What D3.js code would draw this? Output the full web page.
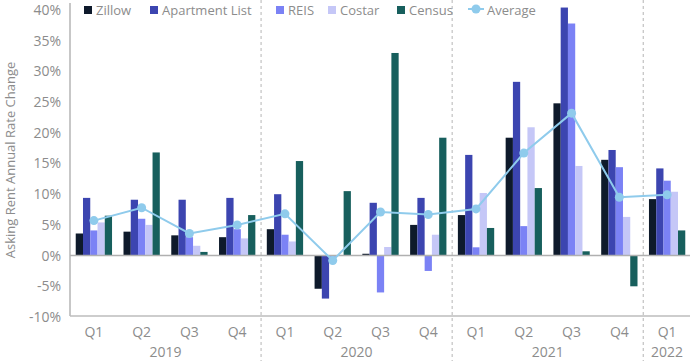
<!DOCTYPE html>
<html>
<head>
<meta charset="utf-8">
<script src="https://cdn.jsdelivr.net/npm/d3@7"></script>
<style>
  body { margin: 0; background: #fff; }
  svg { display: block; font-family: 'Open Sans', sans-serif; }
</style>
</head>
<body>
<svg id="chart" width="690" height="361"></svg>
<script>
// quarter / year labels
const quarters = ['Q1', 'Q2', 'Q3', 'Q4', 'Q1', 'Q2', 'Q3', 'Q4', 'Q1', 'Q2', 'Q3', 'Q4', 'Q1'];
const years = ['2019', '2020', '2021', '2022'];
const quartersPerYear = [4, 4, 4, 1];

// series values (% annual change)
const zillow = [3.6, 3.9, 3.3, 3.0, 4.3, -5.4, 0.3, 5.0, 6.6, 19.2, 24.8, 15.6, 9.2];
const apartmentList = [9.4, 9.1, 9.1, 9.4, 10.0, -7.0, 8.6, 9.4, 16.4, 28.3, 40.4, 17.2, 14.2];
const reis = [4.1, 6.0, 3.0, 4.3, 3.4, -0.2, -6.0, -2.5, 1.35, 4.8, 37.8, 14.4, 12.2];
const costar = [5.4, 5.0, 1.6, 2.8, 2.3, 0.1, 1.4, 3.4, 10.2, 20.9, 14.6, 6.3, 10.4];
const census = [6.5, 16.8, 0.6, 6.6, 15.4, 10.5, 33.0, 19.2, 4.5, 11.0, 0.7, -5.0, 4.1];
const average = [5.7, 7.8, 3.6, 5.0, 6.8, -0.8, 7.1, 6.7, 7.6, 16.7, 23.2, 9.5, 9.9];

const seriesNames = ['Zillow', 'Apartment List', 'REIS', 'Costar', 'Census'];
const seriesValues = [zillow, apartmentList, reis, costar, census];
const seriesColors = ['#0e1a2b', '#3c45b0', '#7b82f5', '#c5c7f7', '#175f5d'];
const avgColor = '#8fcbec';
const yTicks = [-10, -5, 0, 5, 10, 15, 20, 25, 30, 35, 40];

const textColor = '#8c8c8c';
const svg = d3.select('#chart');

const plotLeft = 70, plotRight = 691, plotTop = 10, plotBottom = 317;

const x0 = d3.scaleBand()
  .domain(d3.range(quarters.length))
  .range([plotLeft, plotRight])
  .paddingInner(0.24)
  .paddingOuter(0.12);

const x1 = d3.scaleBand()
  .domain(seriesNames)
  .range([0, x0.bandwidth()]);

const y = d3.scaleLinear()
  .domain([-10, 40])
  .range([plotBottom, plotTop]);

// year dividers (dashed)
let cum = 0;
const dividerIdx = [];
quartersPerYear.forEach((n, i) => {
  cum += n;
  if (i < quartersPerYear.length - 1) dividerIdx.push(cum);
});
svg.append('g')
  .selectAll('line')
  .data(dividerIdx)
  .join('line')
  .attr('x1', d => plotLeft + d * x0.step())
  .attr('x2', d => plotLeft + d * x0.step())
  .attr('y1', 0)
  .attr('y2', 361)
  .attr('stroke', '#b5b5b5')
  .attr('stroke-width', 1)
  .attr('stroke-dasharray', '3,3');

// y axis labels
svg.append('g')
  .selectAll('text')
  .data(yTicks)
  .join('text')
  .attr('x', plotLeft - 9)
  .attr('y', d => y(d))
  .attr('dy', '0.35em')
  .attr('text-anchor', 'end')
  .attr('fill', textColor)
  .style('font-size', '14px')
  .text(d => d + '%');

// y axis title
svg.append('text')
  .attr('transform', 'translate(15,' + 160 + ') rotate(-90)')
  .attr('text-anchor', 'middle')
  .attr('fill', textColor)
  .style('font-size', '13px')
  .text('Asking Rent Annual Rate Change');

// bars
const barData = [];
seriesValues.forEach((vals, s) => {
  vals.forEach((v, i) => {
    barData.push({series: seriesNames[s], color: seriesColors[s], i: i, v: v});
  });
});
svg.append('g')
  .selectAll('rect')
  .data(barData)
  .join('rect')
  .attr('x', d => x0(d.i) + x1(d.series))
  .attr('width', x1.bandwidth())
  .attr('y', d => y(Math.max(0, d.v)))
  .attr('height', d => Math.abs(y(d.v) - y(0)))
  .attr('fill', d => d.color);

// axes lines
svg.append('line')
  .attr('x1', plotLeft).attr('x2', plotLeft)
  .attr('y1', 3).attr('y2', y(-10) - 1)
  .attr('stroke', '#8f8f8f').attr('stroke-width', 1);
svg.append('line')
  .attr('x1', plotLeft).attr('x2', 690)
  .attr('y1', y(-10) - 1).attr('y2', y(-10) - 1)
  .attr('stroke', '#bdbdbd').attr('stroke-width', 1.5);
svg.append('line')
  .attr('x1', plotLeft).attr('x2', 690)
  .attr('y1', y(0)).attr('y2', y(0))
  .attr('stroke', '#b0b0b0').attr('stroke-width', 1.5);

// average line
const cx = i => x0(i) + x0.bandwidth() / 2;
svg.append('path')
  .datum(average)
  .attr('fill', 'none')
  .attr('stroke', avgColor)
  .attr('stroke-width', 2)
  .attr('d', d3.line().x((d, i) => cx(i)).y(d => y(d)));
svg.append('g')
  .selectAll('circle')
  .data(average)
  .join('circle')
  .attr('cx', (d, i) => cx(i))
  .attr('cy', d => y(d))
  .attr('r', 4.5)
  .attr('fill', avgColor);

// quarter labels
svg.append('g')
  .selectAll('text')
  .data(quarters)
  .join('text')
  .attr('x', (d, i) => cx(i))
  .attr('y', 332)
  .attr('dy', '0.35em')
  .attr('text-anchor', 'middle')
  .attr('fill', textColor)
  .style('font-size', '14px')
  .text(d => d);

// year labels
let start = 0;
years.forEach((yr, i) => {
  const n = quartersPerYear[i];
  const mid = plotLeft + (start + n / 2) * x0.step();
  start += n;
  svg.append('text')
    .attr('x', mid)
    .attr('y', 352)
    .attr('dy', '0.35em')
    .attr('text-anchor', 'middle')
    .attr('fill', textColor)
    .style('font-size', '14px')
    .text(yr);
});

// legend
const legendX = [84, 150, 276, 328, 397];
const legend = svg.append('g');
seriesNames.forEach((name, i) => {
  legend.append('rect')
    .attr('x', legendX[i])
    .attr('y', 6)
    .attr('width', 8)
    .attr('height', 8)
    .attr('fill', seriesColors[i]);
  legend.append('text')
    .attr('x', legendX[i] + 12)
    .attr('y', 10)
    .attr('dy', '0.35em')
    .attr('fill', textColor)
    .style('font-size', '13px')
    .text(name);
});
legend.append('line')
  .attr('x1', 468).attr('x2', 484)
  .attr('y1', 9).attr('y2', 9)
  .attr('stroke', avgColor).attr('stroke-width', 2);
legend.append('circle')
  .attr('cx', 476).attr('cy', 9).attr('r', 4.5)
  .attr('fill', avgColor);
legend.append('text')
  .attr('x', 487)
  .attr('y', 10)
  .attr('dy', '0.35em')
  .attr('fill', textColor)
  .style('font-size', '13px')
  .text('Average');
</script>
</body>
</html>
